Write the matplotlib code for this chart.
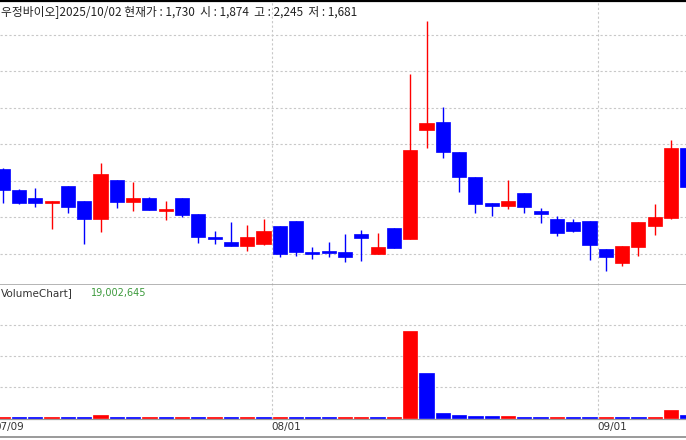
import matplotlib
matplotlib.use("Agg")
import matplotlib.pyplot as plt
from matplotlib.lines import Line2D
from matplotlib.transforms import blended_transform_factory
import numpy as np
import pandas as pd

# daily bars 2025-07-09 .. 2025-09-08 (08/15 is a holiday)
dates = [d for d in pd.bdate_range("2025-07-09", "2025-09-08")
         if d != pd.Timestamp("2025-08-15")]

opens = [2032, 1975, 1952, 1940, 1987, 1945, 1897, 2002, 1943, 1952,
         1919, 1952, 1909, 1847, 1832, 1822, 1827, 1877, 1889, 1805,
         1808, 1805, 1854, 1800, 1870, 1841, 2140, 2162, 2080, 2012,
         1939, 1932, 1966, 1918, 1896, 1887, 1891, 1813, 1776, 1820,
         1877, 1899, 2090]
highs = [2035, 1978, 1982, 1945, 1987, 1945, 2050, 2002, 1998, 1956,
         1945, 1952, 1909, 1864, 1887, 1880, 1896, 1877, 1889, 1818,
         1832, 1854, 1866, 1857, 1870, 2293, 2438, 2203, 2080, 2012,
         1939, 2003, 1966, 1925, 1904, 1896, 1891, 1813, 1822, 1887,
         1937, 2111, 2090]
lows = [1939, 1937, 1928, 1869, 1913, 1827, 1861, 1925, 1919, 1921,
        1893, 1902, 1829, 1827, 1823, 1809, 1825, 1791, 1795, 1785,
        1791, 1779, 1782, 1800, 1816, 1841, 2090, 2062, 1971, 1912,
        1904, 1922, 1912, 1884, 1850, 1860, 1784, 1754, 1768, 1795,
        1852, 1896, 1973]
closes = [1975, 1939, 1939, 1945, 1928, 1897, 2019, 1943, 1952, 1921,
          1921, 1907, 1846, 1841, 1823, 1847, 1864, 1800, 1805, 1800,
          1804, 1791, 1843, 1818, 1816, 2085, 2160, 2079, 2010, 1937,
          1932, 1945, 1928, 1909, 1857, 1863, 1825, 1793, 1822, 1887,
          1901, 2090, 1984]
volumes = [500_000, 400_000, 350_000, 450_000, 400_000, 350_000, 1_000_000, 500_000, 400_000, 450_000,
           350_000, 450_000, 400_000, 450_000, 300_000, 350_000, 300_000, 400_000, 350_000, 300_000,
           250_000, 350_000, 400_000, 300_000, 500_000, 28_000_000, 14_500_000, 1_600_000, 1_000_000, 600_000,
           550_000, 700_000, 500_000, 400_000, 450_000, 350_000, 300_000, 400_000, 350_000, 300_000,
           450_000, 2_600_000, 900_000]

title = "우정바이오]2025/10/02 현재가 : 1,730  시 : 1,874  고 : 2,245  저 : 1,681"
vol_title = "VolumeChart]"
vol_last = "19,002,645"

RED, BLUE = "#ff0000", "#0000ff"
GRID = "#c8c8c8"
W, H = 686, 440

x = np.arange(len(dates))
o, h, l, c = map(np.array, (opens, highs, lows, closes))
up = c >= o
col = np.where(up, RED, BLUE)
vol = np.array(volumes) / 1e6
vcol = [RED] + [RED if vol[i] >= vol[i - 1] else BLUE for i in range(1, len(vol))]

fig = plt.figure(figsize=(W / 100, H / 100), dpi=100)
fig.patch.set_facecolor("white")

def fy(px):
    return 1 - px / H

ax = fig.add_axes([0, fy(285), 1, (285 - 1.3) / H])
av = fig.add_axes([0, fy(419), 1, (419 - 285) / H], sharex=ax)

xlim = (-2.7 / 16.3, (W - 2.7) / 16.3)

# month boundaries
month_starts = [i for i in range(len(dates)) if i == 0 or dates[i].month != dates[i - 1].month]

for a in (ax, av):
    a.set_xlim(*xlim)
    a.set_xticks([])
    a.set_yticks([])
    for s in a.spines.values():
        s.set_visible(False)
    for i in month_starts[1:]:
        a.axvline(i - 0.5, color=GRID, lw=0.8, ls=(0, (2, 2)), zorder=0)

# price panel
ax.set_ylim(1715, 2492)
for p in range(1800, 2401, 100):
    ax.axhline(p, color=GRID, lw=0.8, ls=(0, (2, 2)), zorder=0)
ax.vlines(x, l, h, colors=col, lw=1.0, zorder=2)
body = np.maximum(np.abs(c - o), 4)
ax.bar(x, body, bottom=np.minimum(o, c), width=0.86, color=col,
       edgecolor=col, lw=0.5, zorder=3)
ax.spines["top"].set_visible(True)
ax.spines["top"].set_color("black")
ax.spines["top"].set_linewidth(1.6)
ax.spines["bottom"].set_visible(True)
ax.spines["bottom"].set_color("#a8a8a8")
ax.spines["bottom"].set_linewidth(1.2)

# volume panel
av.set_ylim(-0.3, 42.9)
for v in (10, 20, 30):
    av.axhline(v, color=GRID, lw=0.8, ls=(0, (2, 2)), zorder=0)
av.bar(x, vol, width=0.88, color=vcol, edgecolor=vcol, lw=0.5, zorder=3)
av.spines["bottom"].set_visible(True)
av.spines["bottom"].set_color("#9a9a9a")
av.spines["bottom"].set_linewidth(0.9)

trans = blended_transform_factory(av.transData, av.transAxes)
for i in month_starts:
    av.text(i - 0.5, -8 / 134, dates[i].strftime("%m/%d"), transform=trans,
            ha="left", va="center", fontsize=7.5, color="#333333",
            family="DejaVu Sans", clip_on=False)

fig.add_artist(Line2D([0, 1], [fy(437), fy(437)], color="#9a9a9a", lw=1.4))

fig.text(1 / W, fy(12), title, ha="left", va="center", fontsize=8.5,
         color="#222222", family=["Noto Sans CJK KR", "DejaVu Sans"])
fig.text(1 / W, fy(293), vol_title, ha="left", va="center", fontsize=7.5,
         color="#333333", family="DejaVu Sans")
fig.text(91 / W, fy(293), vol_last, ha="left", va="center", fontsize=7,
         color="#3c9a3c", family="DejaVu Sans")

fig.savefig("out.png", dpi=100, facecolor="white")
